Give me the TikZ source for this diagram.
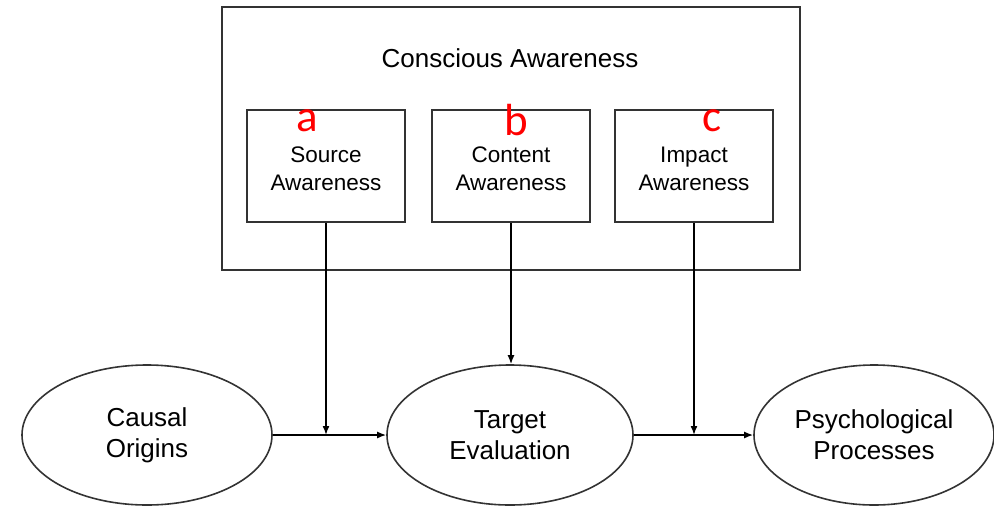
\documentclass[tikz,border=0pt]{standalone}
\usepackage{fontspec}
\setmainfont{Liberation Sans}
\newfontfamily\letterfont{Carlito}
\usetikzlibrary{arrows.meta,shapes.geometric}
\begin{document}
\begin{tikzpicture}[x=1pt,y=-1pt,
  line width=1.6pt,
  every node/.style={inner sep=0pt},
  frame/.style={draw=black!80},
  awbox/.style={draw=black!80, minimum width=158pt, minimum height=112pt, align=center, font=\fontsize{22.5}{28}\selectfont},
  stage/.style={draw=black!80, ellipse, minimum width=246pt, minimum height=140pt, align=center, font=\fontsize{26}{31}\selectfont},
  tag/.style={text=red, font=\letterfont\fontsize{45}{45}\selectfont},
  link/.style={draw=black, -{Latex[length=9pt,width=7pt]}}
]
\useasboundingbox (0,0) rectangle (994,507);

% outer region and its title
\draw[frame] (222,7) rectangle (800,270);
\node (title) at (510,58) {\fontsize{26}{30}\selectfont Conscious Awareness};

% three kinds of awareness
\node[awbox] (src) at (326,166) {\\[-6pt]Source\\Awareness};
\node[awbox] (cnt) at (511,166) {\\[-6pt]Content\\Awareness};
\node[awbox] (imp) at (694,166) {\\[-6pt]Impact\\Awareness};

\node[tag] (la) at (307,121) {a};
\node[tag] (lb) at (516,120) {b};
\node[tag] (lc) at (712,121) {c};

% causal chain
\node[stage, minimum width=250pt] (orig) at (147,435) {Causal\\Origins};
\node[stage] (targ) at (510,435) {Target\\Evaluation};
\node[stage, minimum width=240pt] (proc) at (874,435) {Psychological\\Processes};

\draw[link] (orig.east) -- (targ.west);
\draw[link] (targ.east) -- (proc.west);

% moderating links from awareness boxes
\coordinate (srcHit) at (src.south |- orig.east);
\coordinate (impHit) at (imp.south |- targ.east);
\draw[link] (src.south) -- (srcHit);
\draw[link] (cnt.south) -- (cnt.south |- targ.north);
\draw[link] (imp.south) -- (impHit);
\end{tikzpicture}
\end{document}
